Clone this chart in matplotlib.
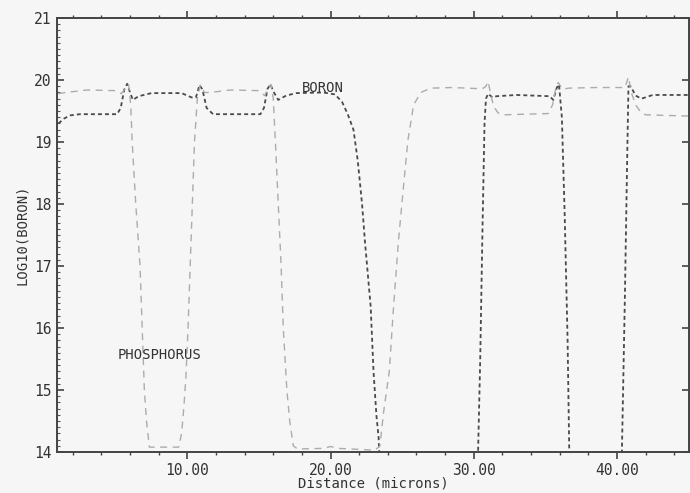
import matplotlib
matplotlib.use("Agg")
import matplotlib.pyplot as plt
from matplotlib.ticker import MultipleLocator

# BORON profile (distance in microns, log10 concentration) - values under 14 are clipped
boronX = [1.0, 1.4, 1.8, 2.5, 5.1, 5.35, 5.6, 5.8, 6.0, 6.2, 6.6, 7.5, 9.6, 10.3, 10.6,
          10.85, 11.05, 11.35, 11.8, 15.1, 15.35, 15.6, 15.8, 16.05, 16.35, 16.9, 17.6,
          19.5, 20.3, 20.8, 21.2, 21.6, 21.9, 22.2, 22.4, 22.8, 23.0, 23.2, 23.35, 23.5,
          30.25, 30.45, 30.6, 30.75, 30.85, 31.0, 31.3, 31.6, 33.0, 35.3, 35.55, 35.8,
          35.95, 36.15, 36.35, 36.55, 36.7, 40.3, 40.55, 40.7, 40.8, 40.95, 41.3, 41.7,
          42.5, 45.0]
boronY = [19.3, 19.38, 19.43, 19.45, 19.45, 19.55, 19.85, 19.94, 19.8, 19.68, 19.74, 19.79,
          19.79, 19.72, 19.72, 19.92, 19.85, 19.55, 19.45, 19.45, 19.55, 19.86, 19.93, 19.8,
          19.68, 19.75, 19.79, 19.8, 19.77, 19.65, 19.45, 19.2, 18.7, 18.0, 17.4, 16.35,
          15.3, 14.6, 14.25, 13.5,
          13.5, 15.5, 17.5, 19.3, 19.7, 19.78, 19.72, 19.74, 19.76, 19.74, 19.68, 19.88,
          19.93, 19.4, 17.8, 15.8, 13.5, 13.5, 16.5, 18.6, 19.9, 19.9, 19.75, 19.7,
          19.76, 19.76]

# PHOSPHORUS profile
phosX = [1.0, 1.5, 3.0, 5.0, 5.4, 5.7, 5.9, 6.05, 6.15, 6.4, 6.7, 6.85, 7.0, 7.15, 7.35,
         9.4, 9.6, 9.75, 9.9, 10.05, 10.2, 10.35, 10.5, 10.7, 10.9, 11.2, 11.6, 13.0, 15.0,
         15.4, 15.7, 15.85, 16.0, 16.15, 16.35, 16.55, 16.7, 16.95, 17.15, 17.4, 17.7, 19.5,
         20.0, 20.5, 22.3, 23.1, 23.45, 23.7, 24.1, 24.4, 24.75, 25.1, 25.4, 25.8, 26.3,
         27.0, 28.5, 30.6, 30.85, 31.0, 31.2, 31.4, 31.7, 32.0, 35.2, 35.5, 35.75, 35.9,
         36.2, 36.6, 38.5, 40.55, 40.8, 41.0, 41.3, 41.7, 42.0, 45.0]
phosY = [19.78, 19.8, 19.84, 19.83, 19.78, 19.88, 19.93, 19.6, 19.0, 18.0, 17.0, 16.0,
         15.0, 14.5, 14.08, 14.08, 14.3, 14.7, 15.2, 16.0, 17.0, 18.0, 19.0, 19.7, 19.92,
         19.8, 19.8, 19.84, 19.83, 19.75, 19.9, 19.93, 19.7, 19.0, 18.0, 17.0, 16.0, 15.0,
         14.5, 14.1, 14.05, 14.06, 14.09, 14.06, 14.04, 14.03, 14.1, 14.64, 15.3, 16.35,
         17.43, 18.3, 19.03, 19.6, 19.8, 19.87, 19.88, 19.86, 19.9, 19.98, 19.75, 19.57,
         19.47, 19.44, 19.46, 19.6, 19.9, 19.96, 19.85, 19.87, 19.88, 19.88, 20.05, 19.8,
         19.6, 19.47, 19.44, 19.42]

xTicks = [10, 20, 30, 40]
xTickLabels = ["10.00", "20.00", "30.00", "40.00"]
yTicks = [14, 15, 16, 17, 18, 19, 20, 21]

bg = "#f6f6f6"
mono = "DejaVu Sans Mono"
txt = "#333333"

fig = plt.figure(figsize=(6.9, 4.93), dpi=100, facecolor=bg)
ax = fig.add_axes([0.083, 0.083, 0.915, 0.8803], facecolor=bg)

lineB, = ax.plot(boronX, boronY, color="#4a4a4a", lw=1.3)
lineB.set_dashes((2.2, 1.7))
lineP, = ax.plot(phosX, phosY, color="#acacac", lw=1.0)
lineP.set_dashes((5, 4))

ax.set_xlim(0.92, 45.0)
ax.set_ylim(14, 21)

ax.set_xticks(xTicks)
ax.set_xticklabels(xTickLabels, fontfamily=mono, fontsize=10.5, color=txt)
ax.xaxis.set_minor_locator(MultipleLocator(2))
ax.set_yticks(yTicks)
ax.set_yticklabels([str(v) for v in yTicks], fontfamily=mono, fontsize=10.5, color=txt)
ax.yaxis.set_minor_locator(MultipleLocator(0.1))

ax.tick_params(axis="x", which="major", direction="out", length=5, width=1.2,
               color="#444444", top=True, pad=3)
ax.tick_params(axis="x", which="minor", direction="out", length=2.5, width=1.0,
               color="#444444", top=True)
ax.tick_params(axis="y", which="major", direction="out", length=5, width=1.2,
               color="#444444", pad=4)
ax.tick_params(axis="y", which="minor", direction="out", length=2, width=0.8,
               color="#555555")
ax.tick_params(axis="y", which="both", right=True, direction="in")
ax.tick_params(axis="y", which="minor", right=False)

for side in ["left", "right", "top", "bottom"]:
    ax.spines[side].set_color("#444444")
    ax.spines[side].set_linewidth(1.4)

ax.set_xlabel("Distance (microns)", fontfamily=mono, fontsize=10, color=txt, labelpad=-1)
ax.set_ylabel("LOG10(BORON)", fontfamily=mono, fontsize=10, color=txt, labelpad=4)

ax.text(18.0, 19.87, "BORON", fontfamily=mono, fontsize=10, color=txt,
        ha="left", va="center")
ax.text(5.1, 15.57, "PHOSPHORUS", fontfamily=mono, fontsize=10, color=txt,
        ha="left", va="center")

fig.savefig("out.png", dpi=100, facecolor=bg)
